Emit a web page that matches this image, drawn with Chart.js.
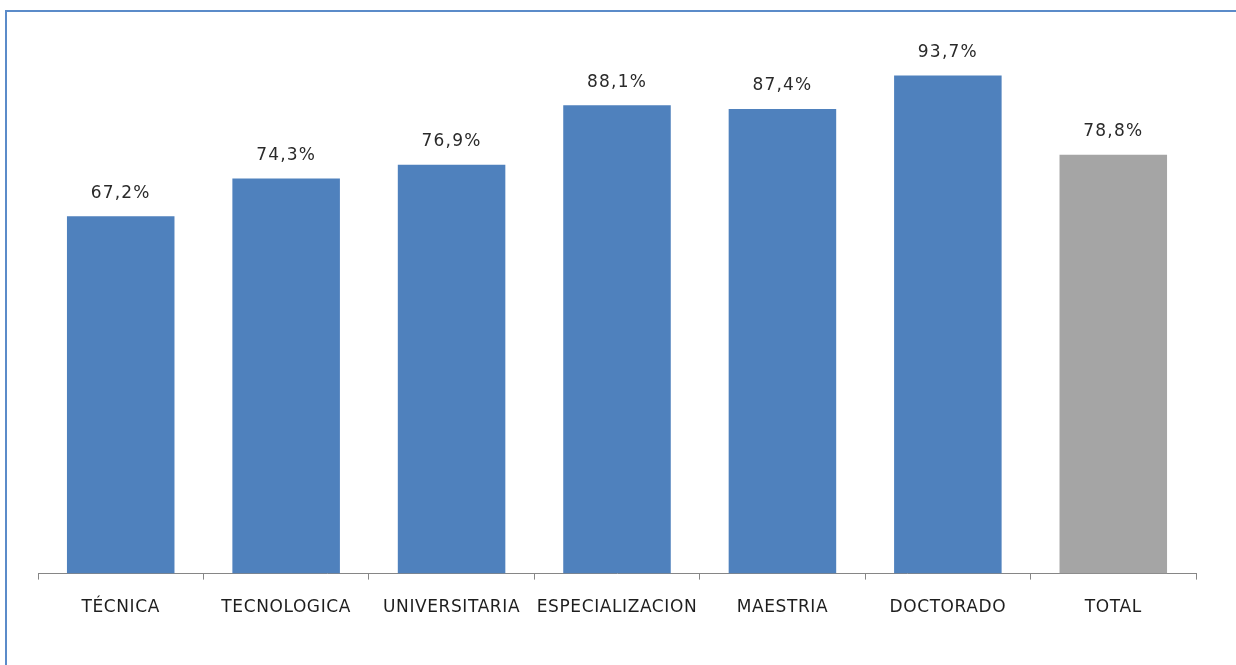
<!DOCTYPE html>
<html>
<head>
<meta charset="utf-8">
<script src="https://cdn.jsdelivr.net/npm/chart.js@4/dist/chart.umd.min.js"></script>
<style>
  html, body { margin: 0; padding: 0; background: #fff; overflow: hidden; }
  #wrap { position: relative; width: 1236px; height: 665px; }
  #frame {
    position: absolute; left: 5px; top: 10px; width: 1300px; height: 700px;
    border-left: 2px solid #5b8bc9; border-top: 2px solid #5b8bc9;
    pointer-events: none;
  }
</style>
</head>
<body>
<div id="wrap">
  <canvas id="chart" width="1236" height="665"></canvas>
  <div id="frame"></div>
</div>
<script>
// chart data
let categories = ['TÉCNICA', 'TECNOLOGICA', 'UNIVERSITARIA', 'ESPECIALIZACION', 'MAESTRIA', 'DOCTORADO', 'TOTAL'];
let values = [67.2, 74.3, 76.9, 88.1, 87.4, 93.7, 78.8];
let barColors = ['#4f81bd', '#4f81bd', '#4f81bd', '#4f81bd', '#4f81bd', '#4f81bd', '#a5a5a5'];

// slightly spaced-out text like the original
let spacingPlugin = {
    id: 'spacing',
    beforeDraw(chart) {
        chart.ctx.letterSpacing = '0.6px';
    }
};

// value labels above each bar, comma decimals
let valueLabels = {
    id: 'valueLabels',
    afterDatasetsDraw(chart) {
        let ctx = chart.ctx;
        let meta = chart.getDatasetMeta(0);
        ctx.save();
        ctx.letterSpacing = '1.2px';
        ctx.font = '17px "DejaVu Sans"';
        ctx.fillStyle = '#2a2a2a';
        ctx.textAlign = 'center';
        ctx.textBaseline = 'middle';
        meta.data.forEach((bar, i) => {
            let text = values[i].toFixed(1).replace('.', ',') + '%';
            ctx.fillText(text, bar.x, bar.y - 23);
        });
        ctx.restore();
    }
};

new Chart(document.getElementById('chart'), {
    type: 'bar',
    data: {
        labels: categories,
        datasets: [{
            data: values,
            backgroundColor: barColors,
            barPercentage: 0.65,
            categoryPercentage: 1
        }]
    },
    options: {
        responsive: false,
        animation: false,
        layout: { padding: { left: 38, right: 40, top: 42, bottom: 29 } },
        plugins: { legend: { display: false }, tooltip: { enabled: false } },
        scales: {
            x: {
                grid: { drawOnChartArea: false, drawTicks: true, tickLength: 6, color: '#868686' },
                border: { color: '#868686', width: 1 },
                ticks: {
                    color: '#1e1e1e',
                    font: { family: 'DejaVu Sans', size: 17 },
                    padding: 18,
                    maxRotation: 0,
                    autoSkip: false
                }
            },
            y: { display: false, min: 0, max: 100 }
        }
    },
    plugins: [spacingPlugin, valueLabels]
});
</script>
</body>
</html>
